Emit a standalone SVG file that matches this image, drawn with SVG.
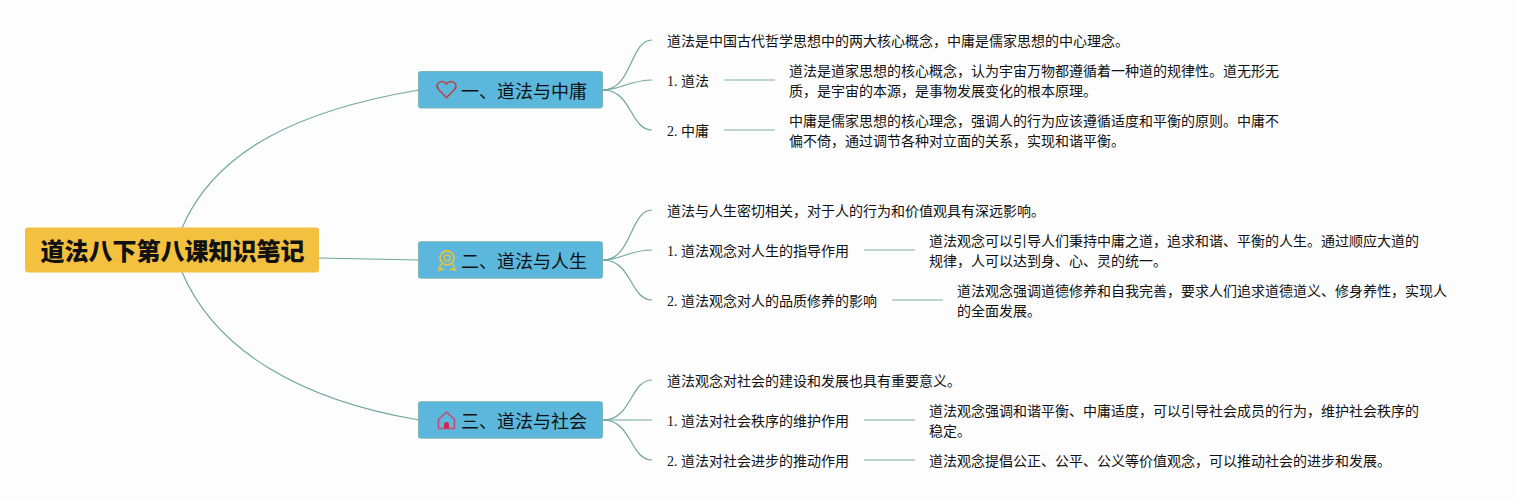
<svg xmlns="http://www.w3.org/2000/svg" width="1517" height="500" viewBox="0 0 1517 500">
<style>
text{font-family:"Liberation Serif","Noto Sans CJK SC",serif;fill:#111}
.t{font-size:14px}
.b{font-size:18px;font-family:"Noto Sans CJK SC",sans-serif}
.c{fill:none;stroke:#6fa79a;stroke-width:1.2}
.l{fill:none;stroke:#a5c9bd;stroke-width:1.5}
.box{fill:#5bb7dc;stroke:#7fb5b8;stroke-width:1}
</style>
<rect width="1517" height="500" fill="#fdfdfd"/>
<g id="connectors">
<path class="c" d="M182 228C215 150 300 110 419 90"/>
<path class="c" d="M319 258L419 260"/>
<path class="c" d="M182 272C215 350 300 400 419 420"/>
<path class="c" d="M603 90C632 90 630 40 652 40"/>
<path class="c" d="M603 90C620 90 630 80 652 80"/>
<path class="c" d="M603 90C632 90 630 130 652 130"/>
<path class="c" d="M603 260C632 260 630 210 652 210"/>
<path class="c" d="M603 260C620 260 630 250 652 250"/>
<path class="c" d="M603 260C632 260 630 300 652 300"/>
<path class="c" d="M603 420C632 420 630 380 652 380"/>
<path class="c" d="M603 420H652"/>
<path class="c" d="M603 420C632 420 630 460 652 460"/>
<path class="l" d="M724 80H775"/>
<path class="l" d="M724 130H775"/>
<path class="l" d="M864 250H915"/>
<path class="l" d="M892 300H943"/>
<path class="l" d="M864 420H915"/>
<path class="l" d="M864 460H915"/>
</g>
<g id="root">
<rect x="25" y="227.500" width="294" height="45" rx="3" fill="#f4c03f"/>
<text x="40.500" y="260" font-size="24" font-weight="900" style="font-family:'Noto Sans CJK SC',sans-serif">道法八下第八课知识笔记</text>
</g>
<g id="branch1">
<rect class="box" x="418.500" y="71.500" width="184" height="36.500" rx="2"/>
<path d="M446.500 97.500L438.500 89.500C435 85 438.500 81.500 442 81.500C444 81.500 445.500 82.500 446.500 84C447.500 82.500 449 81.500 451 81.500C454.500 81.500 458 85 454.500 89.500Z" fill="none" stroke="#b5474f" stroke-width="1.600"/>
<text class="b" x="461" y="97.500">一、道法与中庸</text>
</g>
<g id="branch2">
<rect class="box" x="418.500" y="241.700" width="184" height="36.500" rx="2"/>
<circle cx="447" cy="258" r="7" fill="none" stroke="#e3c23f" stroke-width="1.800"/>
<circle cx="447" cy="258" r="3" fill="none" stroke="#e3c23f" stroke-width="1.500"/>
<path d="M441 264L439 270L444 269M453 264L455 270L450 269" fill="none" stroke="#e3c23f" stroke-width="1.800"/>
<text class="b" x="461" y="267.500">二、道法与人生</text>
</g>
<g id="branch3">
<rect class="box" x="418.500" y="401.700" width="184" height="36.500" rx="2"/>
<path d="M446.500 412L438.500 419.500V428.500H454.500V419.500Z" fill="none" stroke="#c94a76" stroke-width="1.600"/>
<path d="M444 428.500V424.500A2.500 2.500 0 0 1 449 424.500V428.500Z" fill="#d4264f"/>
<text class="b" x="461" y="427.500">三、道法与社会</text>
</g>
<g id="n1-0"><text class="t" x="667" y="46">道法是中国古代哲学思想中的两大核心概念，中庸是儒家思想的中心理念。</text></g>
<g id="n1-1"><text class="t" x="667" y="86">1. 道法</text></g>
<g id="n1-1-d"><text class="t" x="789" y="76">道法是道家思想的核心概念，认为宇宙万物都遵循着一种道的规律性。道无形无</text><text class="t" x="789" y="96">质，是宇宙的本源，是事物发展变化的根本原理。</text></g>
<g id="n1-2"><text class="t" x="667" y="136">2. 中庸</text></g>
<g id="n1-2-d"><text class="t" x="789" y="126">中庸是儒家思想的核心理念，强调人的行为应该遵循适度和平衡的原则。中庸不</text><text class="t" x="789" y="146">偏不倚，通过调节各种对立面的关系，实现和谐平衡。</text></g>
<g id="n2-0"><text class="t" x="667" y="216">道法与人生密切相关，对于人的行为和价值观具有深远影响。</text></g>
<g id="n2-1"><text class="t" x="667" y="256">1. 道法观念对人生的指导作用</text></g>
<g id="n2-1-d"><text class="t" x="929" y="246">道法观念可以引导人们秉持中庸之道，追求和谐、平衡的人生。通过顺应大道的</text><text class="t" x="929" y="266">规律，人可以达到身、心、灵的统一。</text></g>
<g id="n2-2"><text class="t" x="667" y="306">2. 道法观念对人的品质修养的影响</text></g>
<g id="n2-2-d"><text class="t" x="957" y="296">道法观念强调道德修养和自我完善，要求人们追求道德道义、修身养性，实现人</text><text class="t" x="957" y="316">的全面发展。</text></g>
<g id="n3-0"><text class="t" x="667" y="386">道法观念对社会的建设和发展也具有重要意义。</text></g>
<g id="n3-1"><text class="t" x="667" y="426">1. 道法对社会秩序的维护作用</text></g>
<g id="n3-1-d"><text class="t" x="929" y="416">道法观念强调和谐平衡、中庸适度，可以引导社会成员的行为，维护社会秩序的</text><text class="t" x="929" y="436">稳定。</text></g>
<g id="n3-2"><text class="t" x="667" y="466">2. 道法对社会进步的推动作用</text></g>
<g id="n3-2-d"><text class="t" x="929" y="466">道法观念提倡公正、公平、公义等价值观念，可以推动社会的进步和发展。</text></g>
</svg>
